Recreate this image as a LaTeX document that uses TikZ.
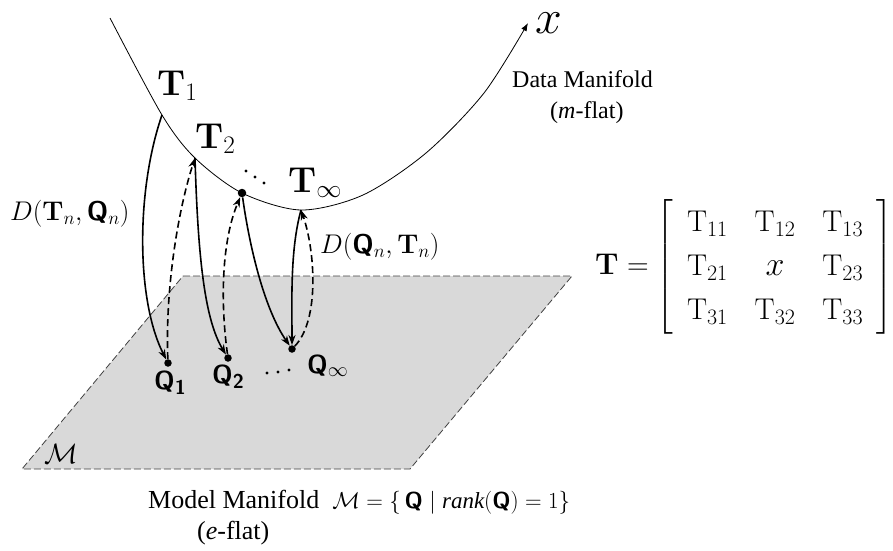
\RequirePackage{fix-cm}
\documentclass[tikz,border=0pt]{standalone}
\usepackage[no-math]{fontspec}
\setmainfont{Liberation Serif}
\usepackage{amsmath}
\usetikzlibrary{arrows.meta}
\DeclareMathSizes{30}{30}{22}{16}
\DeclareMathSizes{26}{26}{20}{14}
\newcommand{\bQ}{\textsf{\textbf{Q}}}
\begin{document}
\begin{tikzpicture}[x=1pt,y=-1pt,
  curveline/.style={line width=0.8pt},
  proj/.style={line width=1.6pt,-{Stealth[length=10pt,width=7pt,inset=3pt]}},
  projd/.style={proj,dash pattern=on 7pt off 4pt},
  qdot/.style={circle,fill,inner sep=0pt,minimum size=7.5pt},
  tdot/.style={circle,fill,inner sep=0pt,minimum size=8.5pt},
  lbl/.style={inner sep=0pt,anchor=base west},
  planestyle/.style={fill=black!15,draw=black!75,line width=0.8pt,dash pattern=on 7pt off 3pt},
  smalldot/.style={fill=black},
]
\useasboundingbox (0,0) rectangle (893,550);
% model manifold plane
\path[planestyle] (183,276) -- (572,276) -- (410,469) -- (22,469) -- cycle;
% data manifold curve
\coordinate (t1) at (162,115);
\coordinate (t2) at (195,158);
\coordinate (tinf) at (301,210);
\draw[curveline,-{Latex[length=8pt,width=6pt]}] plot[smooth] coordinates {(110,18) (162,115) (195,158) (242,193) (301,210) (363,195) (426,153) (484,93) (528,23)};
\node[tdot] (t3) at (242,193) {};
% points on model manifold
\node[qdot] (q1) at (168,363) {};
\node[qdot] (q2) at (228,358) {};
\node[qdot] (qinf) at (292,349) {};
% projections
\draw[proj] (t1) .. controls (136,190) and (136,300) .. (q1);
\draw[projd] (q1) .. controls (165,290) and (178,210) .. (t2);
\draw[proj] (t2) .. controls (198,260) and (205,320) .. (q2);
\draw[projd] (q2) .. controls (220,300) and (222,240) .. (t3);
\draw[proj] (t3) .. controls (250,250) and (265,310) .. (qinf);
\draw[proj] (tinf) .. controls (290,250) and (292,300) .. (qinf);
\draw[projd] (qinf) .. controls (320,320) and (315,250) .. (tinf);
% dots
\fill[smalldot] (246,171) circle (1.7) (255,177) circle (1.7) (264,183) circle (1.7);
\fill[smalldot] (267,373) circle (1.7) (278,372) circle (1.7) (289,370) circle (1.7);
% labels
\node[lbl,font=\fontsize{36}{36}\selectfont] (lt1) at (157,95) {$\mathbf{T}_1$};
\node[lbl,font=\fontsize{36}{36}\selectfont] (lt2) at (195,148) {$\mathbf{T}_2$};
\node[lbl,font=\fontsize{36}{36}\selectfont] (ltinf) at (288,192) {$\mathbf{T}_\infty$};
\node[inner sep=0pt,font=\fontsize{48}{48}\selectfont] (lx) at (549,23) {$x$};
\node[lbl,font=\fontsize{24}{24}\selectfont] (dm1) at (512,87) {Data Manifold};
\node[lbl,font=\fontsize{24}{24}\selectfont] (dm2) at (550,118) {(\textit{m}-flat)};
\node[lbl,font=\fontsize{27}{27}\selectfont] (dtq) at (10,220) {$D(\mathbf{T}_n,\bQ_n)$};
\node[lbl,font=\fontsize{27}{27}\selectfont] (dqt) at (320,253) {$D(\bQ_n,\mathbf{T}_n)$};
\node[lbl,font=\fontsize{26}{26}\selectfont] (lq1) at (154,389) {\bQ$_{\textsf{\textbf{1}}}$};
\node[lbl,font=\fontsize{26}{26}\selectfont] (lq2) at (212,383) {\bQ$_{\textsf{\textbf{2}}}$};
\node[lbl,font=\fontsize{26}{26}\selectfont] (lqinf) at (307,373) {\bQ$_\infty$};
\node[lbl,font=\fontsize{28}{28}\selectfont] (lm) at (44,463) {$\mathcal{M}$};
\node[lbl,font=\fontsize{26}{26}\selectfont] (mm1) at (148,508) {Model Manifold\ \ {\fontsize{23}{23}\selectfont$\mathcal{M} = \{\,\bQ \mid \textit{rank}(\bQ) = 1\}$}};
\node[lbl,font=\fontsize{26}{26}\selectfont] (mm2) at (197,539) {(\textit{e}-flat)};
\node[anchor=west,inner sep=0pt,font=\fontsize{30}{36}\selectfont] (mat) at (595,267)
  {\arraycolsep=13.5pt\renewcommand{\arraystretch}{1.22}$\mathbf{T} = \left[\begin{array}{ccc}
   \mathrm{T}_{11} & \mathrm{T}_{12} & \mathrm{T}_{13}\\
   \mathrm{T}_{21} & \mbox{\fontsize{34}{34}\selectfont$x$} & \mathrm{T}_{23}\\
   \mathrm{T}_{31} & \mathrm{T}_{32} & \mathrm{T}_{33}
  \end{array}\right]$};
\end{tikzpicture}
\end{document}
